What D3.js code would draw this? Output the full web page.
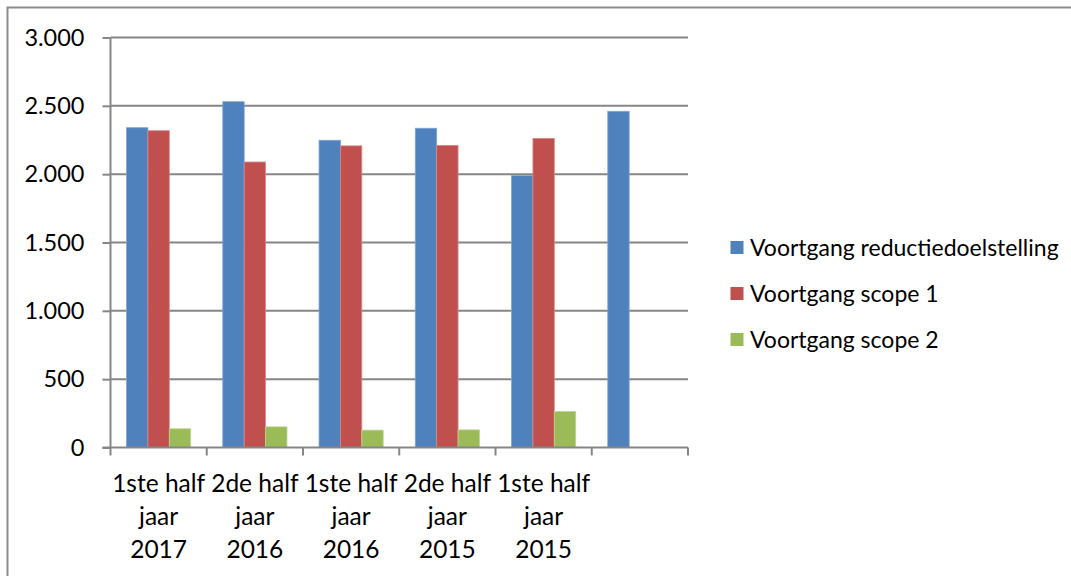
<!DOCTYPE html>
<html>
<head>
<meta charset="utf-8">
<script src="https://cdn.jsdelivr.net/npm/d3@7"></script>
<style>
  html, body { margin: 0; padding: 0; background: #fff; }
  svg { display: block; }
  text { font-family: Lato, "Open Sans", sans-serif; fill: #000; }
</style>
</head>
<body>
<svg id="chart" width="1071" height="576"></svg>
<script>
const categories = [
  ["1ste half", "jaar", "2017"],
  ["2de half", "jaar", "2016"],
  ["1ste half", "jaar", "2016"],
  ["2de half", "jaar", "2015"],
  ["1ste half", "jaar", "2015"],
  ["", "", ""]
];
const seriesNames = ["Voortgang reductiedoelstelling", "Voortgang scope 1", "Voortgang scope 2"];
const reductie = [2340, 2530, 2248, 2336, 1989, 2460];
const scope1   = [2318, 2089, 2207, 2211, 2262, null];
const scope2   = [137, 151, 127, 129, 263, null];
const yTicks = [0, 500, 1000, 1500, 2000, 2500, 3000];
const colors = ["#4F81BD", "#C0504D", "#9BBB59"];
const strokeColors = ["#7FA3D3", "#DA8A88", "#BDD58F"];

(function () {
const svg = d3.select("#chart");
const pLeft = 110.5, pRight = 688, pTop = 37.5, pBottom = 447.5;

// outer frame
svg.append("path").attr("d", `M7.5,576 L7.5,7.5 L1071,7.5`)
  .attr("fill", "none").attr("stroke", "#8c8c8c").attr("stroke-width", 2);

const x = d3.scaleBand().domain(d3.range(categories.length)).range([pLeft, pRight]).paddingInner(0).paddingOuter(0);
const y = d3.scaleLinear().domain([0, 3000]).range([pBottom, pTop]);

// gridlines
svg.append("g").selectAll("line").data(yTicks.filter(d => d > 0)).join("line")
  .attr("x1", pLeft).attr("x2", pRight)
  .attr("y1", d => y(d)).attr("y2", d => y(d))
  .attr("stroke", "#868686").attr("stroke-width", 2);

// y axis
const yAxis = svg.append("g").attr("transform", `translate(${pLeft},0)`)
  .call(d3.axisLeft(y).tickValues(yTicks).tickSize(8).tickPadding(18)
    .tickFormat(d => d3.format(",")(d).replace(/,/g, ".")));
yAxis.select(".domain").remove();
yAxis.selectAll(".tick line").attr("stroke", "#868686").attr("stroke-width", 2);
yAxis.selectAll(".tick text").style("font-size", "23.5px").style("font-family", "Lato, sans-serif").attr("fill", "#000");
svg.append("line").attr("x1", pLeft).attr("x2", pLeft).attr("y1", pTop).attr("y2", pBottom)
  .attr("stroke", "#868686").attr("stroke-width", 2);

// bars
const series = [reductie, scope1, scope2];
const bw = x.bandwidth() / 4.5;
const inner = d3.scaleBand().domain([0, 1, 2]).range([0, bw * 3]);
series.forEach((vals, si) => {
  svg.append("g").selectAll("rect").data(vals.map((v, i) => ({ v, i })).filter(d => d.v != null)).join("rect")
    .attr("x", d => x(d.i) + bw * 0.75 + inner(si))
    .attr("width", inner.bandwidth())
    .attr("y", d => y(d.v))
    .attr("height", d => y(0) - y(d.v))
    .attr("fill", colors[si])
    .attr("stroke", strokeColors[si]).attr("stroke-width", 0.8);
});

// x axis
svg.append("line").attr("x1", pLeft - 8).attr("x2", pRight).attr("y1", pBottom).attr("y2", pBottom)
  .attr("stroke", "#868686").attr("stroke-width", 2);
const boundaries = d3.range(categories.length + 1).map(i => pLeft + i * x.step());
svg.append("g").selectAll("line").data(boundaries).join("line")
  .attr("x1", d => d).attr("x2", d => d).attr("y1", pBottom).attr("y2", pBottom + 8)
  .attr("stroke", "#868686").attr("stroke-width", 2);

const lab = svg.append("g").selectAll("text").data(categories).join("text")
  .attr("text-anchor", "middle").style("font-size", "24.5px");
lab.each(function(lines, i) {
  const t = d3.select(this);
  lines.forEach((ln, k) => {
    t.append("tspan").attr("x", x(i) + x.bandwidth() / 2).attr("y", 492 + k * 33).text(ln);
  });
});

// legend
const lg = svg.append("g");
seriesNames.forEach((name, i) => {
  const yy = 241 + i * 46;
  lg.append("rect").attr("x", 730.5).attr("y", yy).attr("width", 13).attr("height", 13).attr("fill", colors[i]);
  lg.append("text").attr("x", 750).attr("y", yy + 15).style("font-size", "23px").text(name);
});
})();
</script>
</body>
</html>
